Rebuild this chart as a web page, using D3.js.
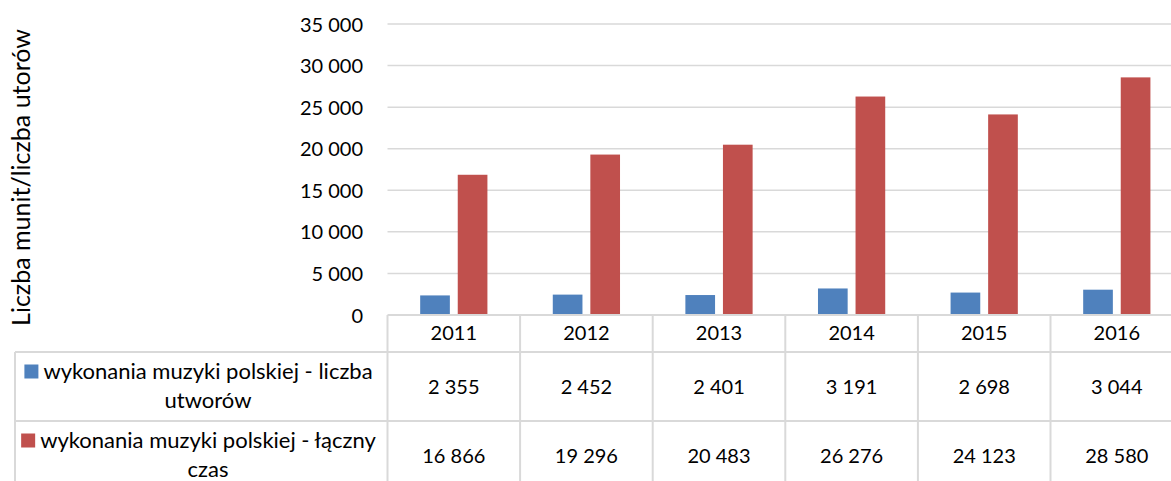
<!DOCTYPE html>
<html><head><meta charset="utf-8">
<script src="https://cdn.jsdelivr.net/npm/d3@7"></script>
<style>
html,body{margin:0;padding:0;background:#fff;}
svg{display:block;font-family:Lato,"Open Sans",sans-serif;}
</style></head>
<body>
<svg id="chart" width="1171" height="481"></svg>
<script>
const years = ["2011","2012","2013","2014","2015","2016"];
const seriesNames = ["wykonania muzyki polskiej - liczba utworów","wykonania muzyki polskiej - łączny czas"];
const seriesLines = [["wykonania muzyki polskiej - liczba","utworów"],["wykonania muzyki polskiej - łączny","czas"]];
const countValues = [2355, 2452, 2401, 3191, 2698, 3044];
const timeValues = [16866, 19296, 20483, 26276, 24123, 28580];
const yTicks = [0, 5000, 10000, 15000, 20000, 25000, 30000, 35000];
const colors = ["#4F81BD", "#C0504D"];
const yTitle = "Liczba munit/liczba utorów";

(function(){
const series = [countValues, timeValues];
const svg = d3.select("#chart");
const fmt = d3.formatLocale({decimal:",", thousands:"\u00a0", grouping:[3], currency:["",""]}).format(",d");

const left = 387.5, catW = 132.6, plotTop = 24, zeroY = 315;
const x = d3.scaleBand().domain(years).range([left, left + catW*years.length]).padding(0);
const xs = d3.scaleBand().domain([0,1]).range([0, catW]).paddingInner(0.21).paddingOuter(0.87);
const y = d3.scaleLinear().domain([0, 35000]).range([zeroY, plotTop]);
const fsNum = 20, fsText = 22, fsTitle = 25;
const grid = "#D9D9D9";

svg.append("g").selectAll("line").data(yTicks.filter(d=>d>0)).join("line")
  .attr("x1", left).attr("x2", 1171).attr("y1", d=>y(d)).attr("y2", d=>y(d))
  .attr("stroke", grid).attr("stroke-width", 1.5);

const yAxis = d3.axisLeft(y).tickValues(yTicks).tickFormat(fmt).tickSize(0).tickPadding(0);
const ya = svg.append("g").attr("transform", `translate(363,0)`).call(yAxis);
ya.select(".domain").remove();
ya.selectAll("text").attr("font-size", fsNum).attr("font-family","Lato").attr("fill","#000").attr("dy","0.35em");

svg.append("text").attr("transform", `translate(30,177.5) rotate(-90)`)
  .attr("text-anchor","middle").attr("font-size", fsTitle).attr("fill","#000").text(yTitle);

series.forEach((vals, si) => {
  svg.append("g").selectAll("rect").data(vals).join("rect")
    .attr("x", (d,i)=> x(years[i]) + xs(si))
    .attr("width", xs.bandwidth())
    .attr("y", d=>y(d)).attr("height", d=> y(0)-y(d))
    .attr("fill", colors[si]);
});

const rowTop = [315, 352, 421, 490];
const tbl = svg.append("g");
const right = left + catW*years.length;
const sw = 2;
tbl.append("line").attr("x1",left).attr("x2",right).attr("y1",rowTop[0]).attr("y2",rowTop[0]).attr("stroke",grid).attr("stroke-width",sw);
[rowTop[1],rowTop[2]].forEach(yy=>tbl.append("line").attr("x1",15).attr("x2",right).attr("y1",yy).attr("y2",yy).attr("stroke",grid).attr("stroke-width",sw));
tbl.append("line").attr("x1",15).attr("x2",15).attr("y1",rowTop[1]).attr("y2",481).attr("stroke",grid).attr("stroke-width",sw);
d3.range(years.length+1).forEach(i=>{
  const xx = left + catW*i;
  tbl.append("line").attr("x1",xx).attr("x2",xx).attr("y1",rowTop[0]).attr("y2",481).attr("stroke",grid).attr("stroke-width",sw);
});
tbl.selectAll("text.yr").data(years).join("text").attr("class","yr")
  .attr("x", d=>x(d)+x.bandwidth()/2).attr("y", 333).attr("dy","0.35em")
  .attr("text-anchor","middle").attr("font-size", fsNum).text(d=>d);
series.forEach((vals, si)=>{
  const cy = (rowTop[si+1]+rowTop[si+2])/2;
  tbl.append("g").selectAll("text").data(vals).join("text")
    .attr("x",(d,i)=>x(years[i])+x.bandwidth()/2).attr("y", cy).attr("dy","0.35em")
    .attr("text-anchor","middle").attr("font-size", fsNum).text(d=>fmt(d));
  const cx = 208;
  const l1 = tbl.append("text").attr("x", cx).attr("y", cy-15).attr("dy","0.35em")
    .attr("text-anchor","middle").attr("font-size", fsText).text(seriesLines[si][0]);
  const w = l1.node().getComputedTextLength();
  tbl.append("rect").attr("x", cx - w/2 - 19).attr("y", cy-15-7).attr("width",14).attr("height",14).attr("fill",colors[si]);
  tbl.append("text").attr("x", cx).attr("y", cy+14).attr("dy","0.35em")
    .attr("text-anchor","middle").attr("font-size", fsText).text(seriesLines[si][1]);
});
})();
</script>
</body></html>
